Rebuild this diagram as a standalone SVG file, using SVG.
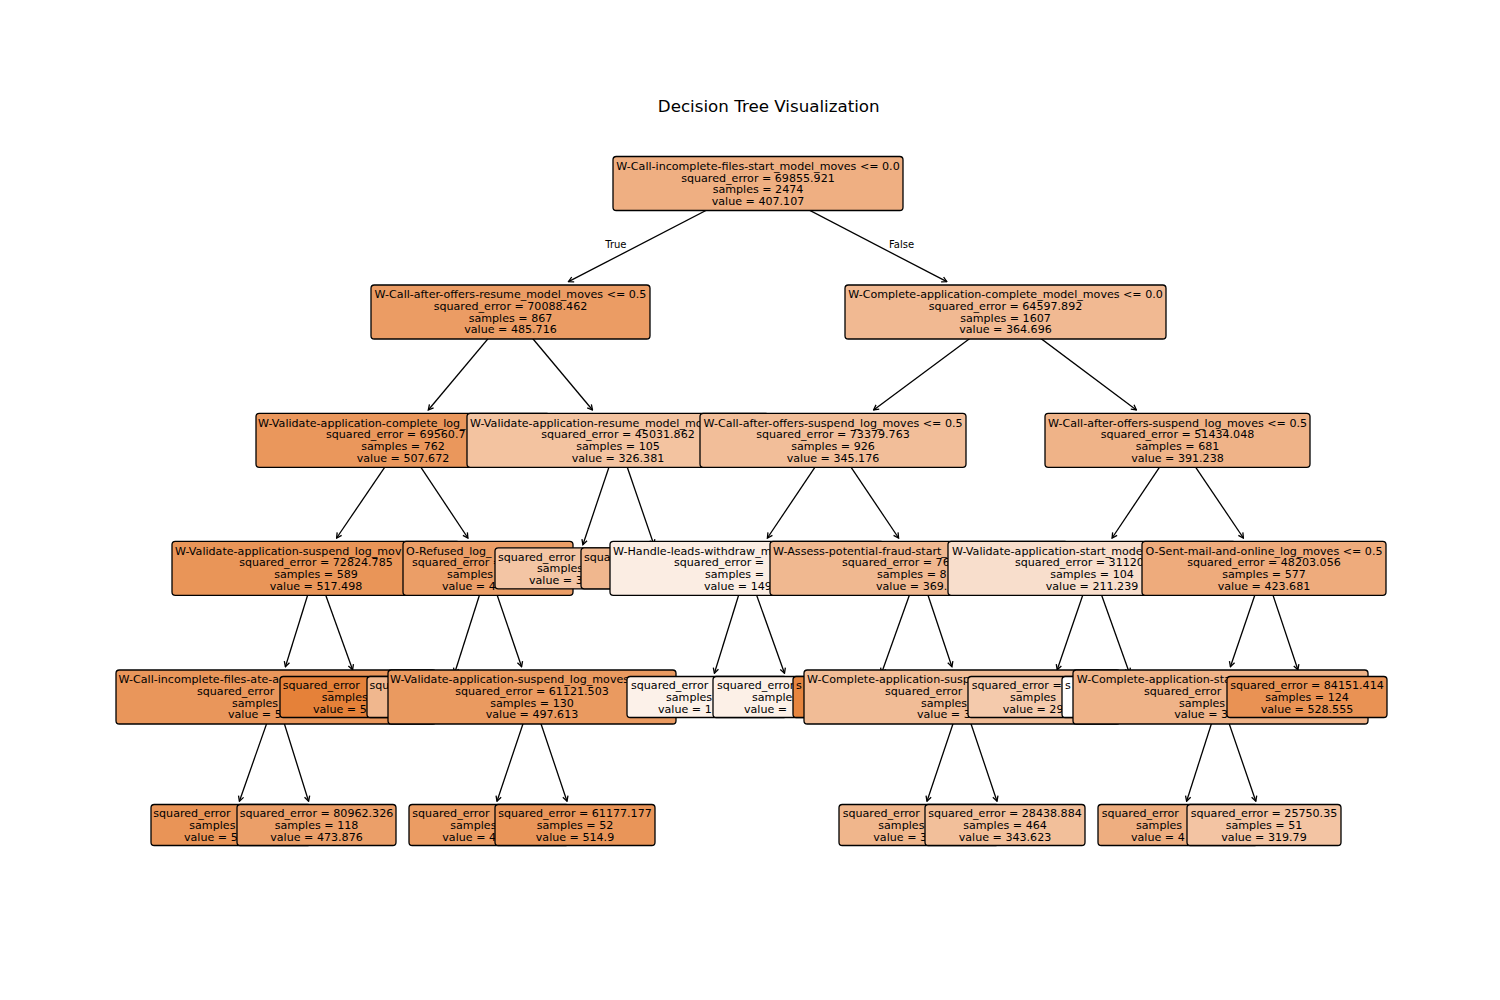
<svg xmlns="http://www.w3.org/2000/svg" width="1500" height="1000" viewBox="0 0 1500 1000">
<style>
text{font-family:"DejaVu Sans","Liberation Sans",sans-serif;font-size:11.1px;fill:#000}
.m{text-anchor:middle}
.b{stroke:#000;stroke-width:1.3}
.e{stroke:#000;stroke-width:1.3;fill:none;marker-end:url(#ah)}
.title{font-size:16.7px;text-anchor:middle}
.lbl{font-size:10px}
</style>
<defs>
<marker id="ah" markerUnits="userSpaceOnUse" markerWidth="8" markerHeight="8" viewBox="-7 -4 8 8" refX="0" refY="0" orient="auto">
<path d="M-5,-2.7 L0,0 L-5,2.7" fill="none" stroke="#000" stroke-width="1.3"/>
</marker>
</defs>
<rect width="1500" height="1000" fill="#fff"/>
<text class="title" x="768.75" y="111.7">Decision Tree Visualization</text>

<g id="connectors">
<line class="e" x1="758" y1="183.5" x2="568.5" y2="281.7"/>
<line class="e" x1="758" y1="183.5" x2="946.8" y2="281.7"/>
<line class="e" x1="510.5" y1="312" x2="428.3" y2="410"/>
<line class="e" x1="510.5" y1="312" x2="592.5" y2="410"/>
<line class="e" x1="1005.5" y1="312" x2="873.6" y2="410"/>
<line class="e" x1="1005.5" y1="312" x2="1136.4" y2="410"/>
<line class="e" x1="403" y1="440.3" x2="336.6" y2="538"/>
<line class="e" x1="403" y1="440.3" x2="467.9" y2="538"/>
<line class="e" x1="618" y1="440.3" x2="582.9" y2="544.7"/>
<line class="e" x1="618" y1="440.3" x2="653.9" y2="544.7"/>
<line class="e" x1="833" y1="440.3" x2="767.4" y2="538"/>
<line class="e" x1="833" y1="440.3" x2="898.6" y2="538"/>
<line class="e" x1="1177.5" y1="440.3" x2="1112.1" y2="538"/>
<line class="e" x1="1177.5" y1="440.3" x2="1243.4" y2="538"/>
<line class="e" x1="316" y1="568.3" x2="285.4" y2="666.7"/>
<line class="e" x1="316" y1="568.3" x2="352.6" y2="669.8"/>
<line class="e" x1="488" y1="568.3" x2="454.6" y2="673.2"/>
<line class="e" x1="488" y1="568.3" x2="521.6" y2="666.7"/>
<line class="e" x1="747" y1="568.3" x2="714.4" y2="673.2"/>
<line class="e" x1="747" y1="568.3" x2="784.5" y2="673.2"/>
<line class="e" x1="919" y1="568.3" x2="881.5" y2="673.2"/>
<line class="e" x1="919" y1="568.3" x2="951.9" y2="666.7"/>
<line class="e" x1="1092" y1="568.3" x2="1057.2" y2="669.8"/>
<line class="e" x1="1092" y1="568.3" x2="1129.5" y2="673.2"/>
<line class="e" x1="1264" y1="568.3" x2="1230.4" y2="666.7"/>
<line class="e" x1="1264" y1="568.3" x2="1297.9" y2="669.8"/>
<line class="e" x1="276" y1="697" x2="239.4" y2="801.2"/>
<line class="e" x1="276" y1="697" x2="308.6" y2="801.2"/>
<line class="e" x1="532" y1="697" x2="497" y2="801.2"/>
<line class="e" x1="532" y1="697" x2="567" y2="801.2"/>
<line class="e" x1="962" y1="697" x2="927" y2="801.2"/>
<line class="e" x1="962" y1="697" x2="997" y2="801.2"/>
<line class="e" x1="1220" y1="697" x2="1186.6" y2="801.2"/>
<line class="e" x1="1220" y1="697" x2="1255.8" y2="801.2"/>
<text class="lbl" x="626.5" y="247.8" text-anchor="end">True</text>
<text class="lbl" x="889" y="247.8">False</text>
</g>

<g id="n0"><rect class="b" x="613" y="156.5" width="290" height="54" rx="3.3" fill="#efaf82"/>
<text class="m" x="758" y="169.85">W-Call-incomplete-files-start_model_moves &lt;= 0.0</text>
<text class="m" x="758" y="181.55">squared_error = 69855.921</text>
<text class="m" x="758" y="193.25">samples = 2474</text>
<text class="m" x="758" y="204.95">value = 407.107</text></g>

<g id="n1"><rect class="b" x="371" y="285" width="279" height="54" rx="3.3" fill="#eb9c64"/>
<text class="m" x="510.5" y="298.35">W-Call-after-offers-resume_model_moves &lt;= 0.5</text>
<text class="m" x="510.5" y="310.05">squared_error = 70088.462</text>
<text class="m" x="510.5" y="321.75">samples = 867</text>
<text class="m" x="510.5" y="333.45">value = 485.716</text></g>

<g id="n2"><rect class="b" x="256" y="413.3" width="294" height="54" rx="3.3" fill="#ea975c"/>
<text x="258" y="426.65">W-Validate-application-complete_log_</text>
<text x="326" y="438.35">squared_error = 69560.7</text>
<text class="m" x="403" y="450.05">samples = 762</text>
<text class="m" x="403" y="461.75">value = 507.672</text></g>

<g id="n3"><rect class="b" x="172" y="541.3" width="288" height="54" rx="3.3" fill="#e99558"/>
<text x="175" y="554.65">W-Validate-application-suspend_log_mov</text>
<text class="m" x="316" y="566.35">squared_error = 72824.785</text>
<text class="m" x="316" y="578.05">samples = 589</text>
<text class="m" x="316" y="589.75">value = 517.498</text></g>

<g id="n4"><rect class="b" x="116" y="670" width="320" height="54" rx="3.3" fill="#e9965b"/>
<text x="118.5" y="683.35">W-Call-incomplete-files-ate-a</text>
<text x="197" y="695.05">squared_error</text>
<text x="232" y="706.75">samples</text>
<text x="228" y="718.45">value = 5</text></g>

<g id="n5"><rect class="b" x="151" y="804.5" width="160" height="41" rx="3.3" fill="#e99457"/>
<text x="153.3" y="817.2">squared_error</text>
<text x="189.3" y="828.9">samples</text>
<text x="184" y="840.6">value = 5</text></g>

<g id="n6"><rect class="b" x="237" y="804.5" width="159" height="41" rx="3.3" fill="#eb9f69"/>
<text class="m" x="316.5" y="817.2">squared_error = 80962.326</text>
<text class="m" x="316.5" y="828.9">samples = 118</text>
<text class="m" x="316.5" y="840.6">value = 473.876</text></g>

<g id="n7"><rect class="b" x="280" y="676.5" width="160" height="41" rx="3.3" fill="#e58139"/>
<text x="282.7" y="689.2">squared_error</text>
<text x="321.7" y="700.9">samples</text>
<text x="313" y="712.6">value = 5</text></g>

<g id="n8"><rect class="b" x="403" y="541.3" width="170" height="54" rx="3.3" fill="#eb9e67"/>
<text x="406" y="554.65">O-Refused_log_</text>
<text x="412" y="566.35">squared_error =</text>
<text x="447" y="578.05">samples</text>
<text x="442" y="589.75">value = 4</text></g>

<g id="n9"><rect class="b" x="367" y="676.5" width="160" height="41" rx="3.3" fill="#f0b78e"/>
<text x="369.5" y="689.2">squ</text></g>

<g id="n10"><rect class="b" x="388" y="670" width="288" height="54" rx="3.3" fill="#ea9a60"/>
<text x="390" y="683.35">W-Validate-application-suspend_log_moves</text>
<text class="m" x="532" y="695.05">squared_error = 61121.503</text>
<text class="m" x="532" y="706.75">samples = 130</text>
<text class="m" x="532" y="718.45">value = 497.613</text></g>

<g id="n11"><rect class="b" x="409" y="804.5" width="160" height="41" rx="3.3" fill="#eb9c63"/>
<text x="412.3" y="817.2">squared_error</text>
<text x="450.3" y="828.9">samples</text>
<text x="442.3" y="840.6">value = 4</text></g>

<g id="n12"><rect class="b" x="495" y="804.5" width="160" height="41" rx="3.3" fill="#e99559"/>
<text class="m" x="575" y="817.2">squared_error = 61177.177</text>
<text class="m" x="575" y="828.9">samples = 52</text>
<text class="m" x="575" y="840.6">value = 514.9</text></g>

<g id="n13"><rect class="b" x="467" y="413.3" width="302" height="54" rx="3.3" fill="#f3c3a0"/>
<text x="470" y="426.65">W-Validate-application-resume_model_mo</text>
<text class="m" x="618" y="438.35">squared_error = 45031.862</text>
<text class="m" x="618" y="450.05">samples = 105</text>
<text class="m" x="618" y="461.75">value = 326.381</text></g>

<g id="n14"><rect class="b" x="495" y="547.8" width="160" height="41" rx="3.3" fill="#f3c5a4"/>
<text x="498" y="560.5">squared_error</text>
<text x="537" y="572.2">samples</text>
<text x="529" y="583.9">value = 3</text></g>

<g id="n15"><rect class="b" x="581" y="547.8" width="162" height="41" rx="3.3" fill="#f0b78e"/>
<text x="584" y="560.5">squa</text></g>

<g id="n16"><rect class="b" x="845" y="285" width="321" height="54" rx="3.3" fill="#f1b992"/>
<text class="m" x="1005.5" y="298.35">W-Complete-application-complete_model_moves &lt;= 0.0</text>
<text class="m" x="1005.5" y="310.05">squared_error = 64597.892</text>
<text class="m" x="1005.5" y="321.75">samples = 1607</text>
<text class="m" x="1005.5" y="333.45">value = 364.696</text></g>

<g id="n17"><rect class="b" x="700" y="413.3" width="266" height="54" rx="3.3" fill="#f2be99"/>
<text class="m" x="833" y="426.65">W-Call-after-offers-suspend_log_moves &lt;= 0.5</text>
<text class="m" x="833" y="438.35">squared_error = 73379.763</text>
<text class="m" x="833" y="450.05">samples = 926</text>
<text class="m" x="833" y="461.75">value = 345.176</text></g>

<g id="n18"><rect class="b" x="610" y="541.3" width="274" height="54" rx="3.3" fill="#fbede3"/>
<text x="613" y="554.65">W-Handle-leads-withdraw_m</text>
<text x="674" y="566.35">squared_error =</text>
<text x="705" y="578.05">samples =</text>
<text x="704" y="589.75">value = 149</text></g>

<g id="n19"><rect class="b" x="627" y="676.5" width="160" height="41" rx="3.3" fill="#fcf1e9"/>
<text x="631" y="689.2">squared_error</text>
<text x="666" y="700.9">samples</text>
<text x="658" y="712.6">value = 1</text></g>

<g id="n20"><rect class="b" x="713" y="676.5" width="160" height="41" rx="3.3" fill="#fcf0e7"/>
<text x="717" y="689.2">squared_error</text>
<text x="752" y="700.9">samples</text>
<text x="744" y="712.6">value =</text></g>

<g id="n21"><rect class="b" x="770" y="541.3" width="298" height="54" rx="3.3" fill="#f0b890"/>
<text x="773" y="554.65">W-Assess-potential-fraud-start_</text>
<text x="842" y="566.35">squared_error = 76</text>
<text x="877" y="578.05">samples = 8</text>
<text x="876" y="589.75">value = 369.</text></g>

<g id="n22"><rect class="b" x="793" y="676.5" width="160" height="41" rx="3.3" fill="#e6853f"/>
<text x="796" y="689.2">s</text></g>

<g id="n23"><rect class="b" x="804" y="670" width="316" height="54" rx="3.3" fill="#f1bc96"/>
<text x="807" y="683.35">W-Complete-application-susp</text>
<text x="885" y="695.05">squared_error</text>
<text x="921" y="706.75">samples</text>
<text x="917" y="718.45">value = 3</text></g>

<g id="n24"><rect class="b" x="839" y="804.5" width="160" height="41" rx="3.3" fill="#f0b68c"/>
<text x="842.7" y="817.2">squared_error</text>
<text x="878.3" y="828.9">samples</text>
<text x="873.3" y="840.6">value = 3</text></g>

<g id="n25"><rect class="b" x="925" y="804.5" width="160" height="41" rx="3.3" fill="#f2bf9a"/>
<text class="m" x="1005" y="817.2">squared_error = 28438.884</text>
<text class="m" x="1005" y="828.9">samples = 464</text>
<text class="m" x="1005" y="840.6">value = 343.623</text></g>

<g id="n26"><rect class="b" x="1045" y="413.3" width="265" height="54" rx="3.3" fill="#efb388"/>
<text class="m" x="1177.5" y="426.65">W-Call-after-offers-suspend_log_moves &lt;= 0.5</text>
<text class="m" x="1177.5" y="438.35">squared_error = 51434.048</text>
<text class="m" x="1177.5" y="450.05">samples = 681</text>
<text class="m" x="1177.5" y="461.75">value = 391.238</text></g>

<g id="n27"><rect class="b" x="948" y="541.3" width="288" height="54" rx="3.3" fill="#f8decc"/>
<text x="952" y="554.65">W-Validate-application-start_mode</text>
<text x="1015" y="566.35">squared_error = 31120</text>
<text class="m" x="1092" y="578.05">samples = 104</text>
<text class="m" x="1092" y="589.75">value = 211.239</text></g>

<g id="n28"><rect class="b" x="968" y="676.5" width="160" height="41" rx="3.3" fill="#f4caac"/>
<text x="971.7" y="689.2">squared_error =</text>
<text x="1010" y="700.9">samples</text>
<text x="1002.7" y="712.6">value = 29</text></g>

<g id="n29"><rect class="b" x="1062" y="676.5" width="156" height="41" rx="3.3" fill="#ffffff"/>
<text x="1065" y="689.2">s</text></g>

<g id="n30"><rect class="b" x="1142" y="541.3" width="244" height="54" rx="3.3" fill="#eeab7c"/>
<text class="m" x="1264" y="554.65">O-Sent-mail-and-online_log_moves &lt;= 0.5</text>
<text class="m" x="1264" y="566.35">squared_error = 48203.056</text>
<text class="m" x="1264" y="578.05">samples = 577</text>
<text class="m" x="1264" y="589.75">value = 423.681</text></g>

<g id="n31"><rect class="b" x="1073" y="670" width="295" height="54" rx="3.3" fill="#efb388"/>
<text x="1076.7" y="683.35">W-Complete-application-sta</text>
<text x="1144" y="695.05">squared_error</text>
<text x="1179" y="706.75">samples</text>
<text x="1174.3" y="718.45">value = 3</text></g>

<g id="n32"><rect class="b" x="1098" y="804.5" width="160" height="41" rx="3.3" fill="#eeae80"/>
<text x="1101.7" y="817.2">squared_error</text>
<text x="1136" y="828.9">samples</text>
<text x="1131" y="840.6">value = 4</text></g>

<g id="n33"><rect class="b" x="1187" y="804.5" width="154" height="41" rx="3.3" fill="#f3c4a3"/>
<text class="m" x="1264" y="817.2">squared_error = 25750.35</text>
<text class="m" x="1264" y="828.9">samples = 51</text>
<text class="m" x="1264" y="840.6">value = 319.79</text></g>

<g id="n34"><rect class="b" x="1227" y="676.5" width="160" height="41" rx="3.3" fill="#e99254"/>
<text class="m" x="1307" y="689.2">squared_error = 84151.414</text>
<text class="m" x="1307" y="700.9">samples = 124</text>
<text class="m" x="1307" y="712.6">value = 528.555</text></g>
</svg>
